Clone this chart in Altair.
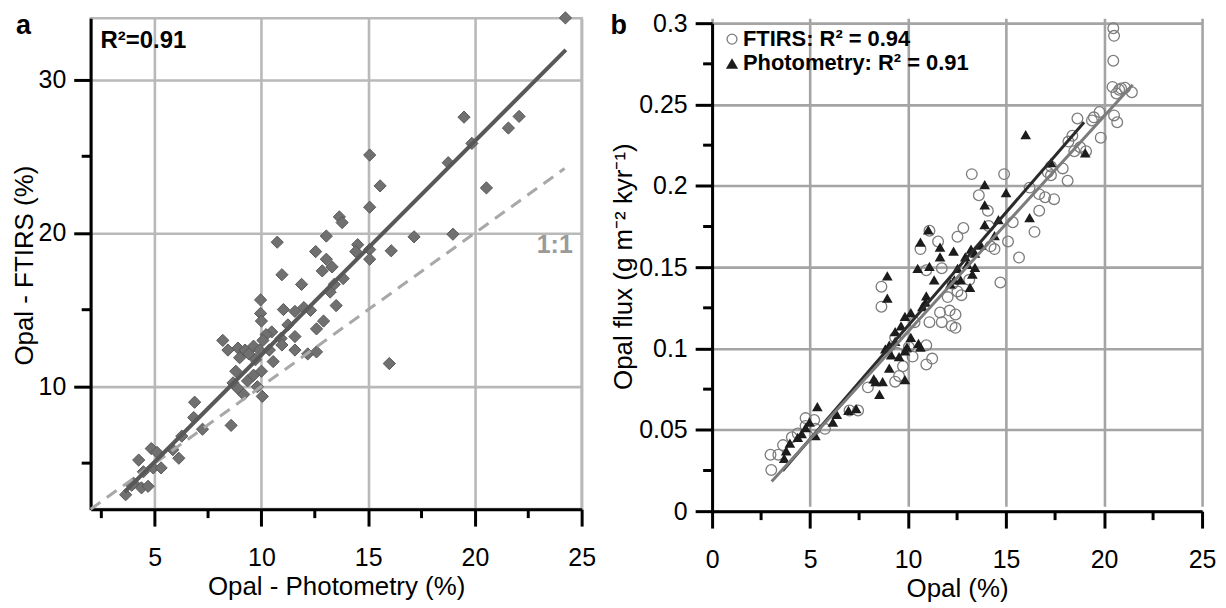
import altair as alt
import pandas as pd

FONT = "Liberation Sans"

# ---------------- Panel a data: Opal - Photometry (%) vs Opal - FTIRS (%) ----------------
a_photometry = [24.24, 19.49, 22.07, 21.57, 19.86, 15.07, 18.75, 15.56, 20.54, 15.07,
                13.65, 13.78, 17.15, 18.97, 13.04, 10.74, 14.51, 15.07, 14.42, 15.07,
                16.08, 12.54, 13.04, 13.31, 12.85, 10.96, 13.83, 11.88, 13.41, 13.22,
                9.96, 11.03, 11.57, 11.99, 12.30, 13.50, 9.96, 10.00, 11.24, 12.91,
                12.58, 10.48, 10.22, 10.07, 10.92, 10.96, 8.19, 8.43, 8.90, 9.23,
                9.41, 9.63, 9.91, 10.37, 11.57, 11.57, 12.17, 12.58, 8.98, 9.72,
                10.55, 8.80, 8.67, 8.90, 9.35, 9.17, 9.81, 10.04, 9.63, 10.00,
                6.87, 6.83, 7.24, 8.58, 6.27, 5.85, 6.13, 4.84, 5.11, 4.25,
                4.47, 4.93, 5.30, 4.01, 4.38, 4.69, 3.64, 3.92, 15.99]
a_ftirs = [34.02, 27.55, 27.60, 26.84, 25.84, 25.08, 24.58, 23.07, 22.94, 21.68,
           21.05, 20.68, 19.75, 19.92, 19.80, 19.40, 19.24, 18.92, 18.79, 18.29,
           18.84, 18.79, 18.29, 17.79, 17.53, 17.28, 17.03, 16.65, 16.65, 16.15,
           15.64, 15.01, 14.89, 15.14, 14.96, 15.27, 14.76, 14.26, 14.01, 14.26,
           13.75, 13.55, 13.38, 13.00, 13.13, 12.70, 13.00, 12.37, 12.50, 12.37,
           12.12, 12.62, 12.37, 12.37, 13.25, 12.37, 12.12, 12.25, 11.87, 11.74,
           11.62, 10.99, 10.23, 9.86, 10.36, 9.48, 9.98, 9.35, 10.73, 10.99,
           8.97, 7.97, 7.21, 7.46, 6.76, 5.88, 5.32, 5.95, 5.70, 5.20,
           4.44, 4.69, 4.69, 3.69, 3.39, 3.49, 2.94, 3.56, 11.49]

fit_a_x = [3.59, 24.26]
fit_a_y = [3.12, 31.93]
one_to_one_x = [2.0, 24.2]
one_to_one_y = [2.0, 24.2]

# ---------------- Panel b data: Opal (%) vs Opal flux ----------------
b_ftirs_opal = [20.47, 20.51, 20.47, 20.43, 20.63, 20.51, 20.67, 20.87, 21.07, 21.42,
                20.77, 19.77, 19.48, 19.38, 19.83, 18.64, 18.38, 18.18, 18.48, 18.78,
                19.08, 18.14, 17.89, 17.13, 17.29, 17.45, 16.99, 16.69, 17.29, 16.69,
                16.45, 16.20, 14.90, 13.25, 15.10, 15.34, 14.71, 15.66, 13.61, 14.07,
                14.11, 12.82, 12.52, 14.41, 14.21, 11.53, 11.09, 10.63, 10.93, 11.72,
                11.63, 11.72, 11.09, 12.12, 12.42, 12.22, 12.42, 12.02, 12.52, 12.28,
                13.12, 12.72, 8.64, 8.64, 10.33, 10.93, 11.23, 10.93, 10.23, 10.04,
                9.34, 9.44, 9.74, 9.54, 9.34, 7.95, 7.45, 7.01, 5.76, 5.21,
                4.77, 5.27, 4.77, 4.37, 4.07, 3.62, 3.38, 2.98, 3.02]
b_ftirs_flux = [0.2969, 0.2922, 0.2769, 0.2608, 0.2568, 0.2433, 0.2391, 0.2598, 0.2603, 0.2575,
                0.2591, 0.2454, 0.2421, 0.2402, 0.2296, 0.2414, 0.2308, 0.2272, 0.2213, 0.2237,
                0.2213, 0.2031, 0.2107, 0.2083, 0.2065, 0.1918, 0.1930, 0.1949, 0.2119, 0.1847,
                0.1717, 0.1989, 0.2072, 0.2072, 0.1658, 0.1776, 0.1406, 0.1559, 0.1942, 0.1847,
                0.1753, 0.1741, 0.1687, 0.1611, 0.1628, 0.1658, 0.1724, 0.1611, 0.1481, 0.1493,
                0.1221, 0.1162, 0.1162, 0.1233, 0.1209, 0.1139, 0.1127, 0.1316, 0.1351, 0.1398,
                0.1422, 0.1328, 0.1380, 0.1257, 0.1162, 0.1020, 0.0938, 0.0902, 0.0950, 0.1009,
                0.1068, 0.0973, 0.0891, 0.0831, 0.0796, 0.0761, 0.0619, 0.0619, 0.0506, 0.0560,
                0.0572, 0.0506, 0.0524, 0.0477, 0.0454, 0.0406, 0.0347, 0.0347, 0.0253]

b_photo_opal = [16.00, 19.04, 17.29, 15.00, 13.91, 13.91, 16.20, 14.61, 13.91, 14.41,
                13.71, 13.41, 13.21, 12.92, 13.02, 13.28, 13.41, 12.68, 13.16, 12.32,
                12.52, 12.36, 12.16, 11.03, 10.63, 10.49, 11.09, 11.63, 11.63, 11.33,
                10.93, 10.89, 10.73, 8.94, 8.94, 10.14, 9.84, 9.64, 9.34, 9.34,
                9.04, 8.84, 8.70, 8.54, 8.25, 8.35, 9.14, 9.04, 9.54, 9.84,
                9.94, 10.14, 10.53, 10.63, 9.84, 5.37, 6.16, 6.36, 7.35, 6.96,
                5.27, 4.97, 4.77, 4.57, 4.37, 3.97, 3.78, 3.68]
b_photo_flux = [0.2315, 0.2202, 0.2143, 0.1958, 0.2008, 0.1883, 0.1805, 0.1793, 0.1762, 0.1694,
                0.1635, 0.1587, 0.1611, 0.1564, 0.1517, 0.1457, 0.1498, 0.1422, 0.1375, 0.1599,
                0.1493, 0.1422, 0.1398, 0.1729, 0.1654, 0.1493, 0.1505, 0.1623, 0.1564, 0.1422,
                0.1323, 0.1285, 0.1257, 0.1446, 0.1309, 0.1221, 0.1198, 0.1139, 0.1103, 0.1044,
                0.1020, 0.0997, 0.0796, 0.0718, 0.0813, 0.0796, 0.0961, 0.0879, 0.0950, 0.0985,
                0.1009, 0.1068, 0.1032, 0.1009, 0.0808, 0.0643, 0.0548, 0.0595, 0.0631, 0.0619,
                0.0465, 0.0548, 0.0513, 0.0477, 0.0454, 0.0418, 0.0371, 0.0324]

fit_ftirs_x = [3.04, 21.46]
fit_ftirs_y = [0.0182, 0.2622]
fit_photo_x = [3.60, 18.98]
fit_photo_y = [0.0249, 0.2391]

# ---------------- ticks ----------------
a_major_x = [5, 10, 15, 20, 25]
a_minor_x = [2.5, 7.5, 12.5, 17.5, 22.5]
a_major_y = [10, 20, 30]
a_minor_y = [5, 15, 25]
b_major_x = [0, 5, 10, 15, 20, 25]
b_minor_x = [2.5, 7.5, 12.5, 17.5, 22.5]
b_major_y = [0, 0.05, 0.1, 0.15, 0.2, 0.25, 0.3]
b_minor_y = [0.025, 0.075, 0.125, 0.175, 0.225, 0.275]

WA, HA = 493, 493
WB, HB = 492, 495
B_TOP = 5          # panel b plot starts slightly lower than panel a
GRID_A = "#b9b9b9"
GRID_B = "#a4a4a4"


def make_axis(values, title, grid_color, orient, fmt=None, title_x=None, title_y=None):
    kw = dict(values=values, title=title, grid=True, gridColor=grid_color, gridWidth=2.6,
              domainColor="black", domainWidth=3, tickColor="black", tickWidth=3, tickSize=17,
              labelFont=FONT, labelFontSize=25, labelColor="black", labelFlush=False,
              labelOverlap=False, titleFont=FONT, titleFontSize=26, titleFontWeight="normal",
              titleColor="black")
    if orient == "bottom":
        kw.update(labelPadding=20, titlePadding=3)
    else:
        kw.update(labelPadding=8, titleAngle=270, titleAlign="center", titleBaseline="middle")
        if title_x is not None:
            kw.update(titleX=title_x, titleY=title_y)
    if fmt:
        kw["format"] = fmt
    return alt.Axis(**kw)


def panel(w, h, xscale, yscale, xaxis, yaxis, minor_x, minor_y, layers, view_stroke):
    xenc = lambda f: alt.X(f, type="quantitative", scale=xscale, axis=xaxis)
    yenc = lambda f: alt.Y(f, type="quantitative", scale=yscale, axis=yaxis)
    mx = alt.Chart(pd.DataFrame({"mx": minor_x})).mark_rule(color="black", strokeWidth=3).encode(
        x=xenc("mx"), y=alt.value(h), y2=alt.value(h + 9))
    my = alt.Chart(pd.DataFrame({"my": minor_y})).mark_rule(color="black", strokeWidth=3).encode(
        y=yenc("my"), x=alt.value(0), x2=alt.value(-9))
    built = [mx, my] + [f(xenc, yenc) for f in layers]
    return alt.layer(*built).properties(
        width=w, height=h, view=alt.ViewBackground(stroke=view_stroke, strokeWidth=2.6))


# ---------------- Panel a ----------------
xa_scale = alt.Scale(domain=[2, 25], nice=False, zero=False)
ya_scale = alt.Scale(domain=[2, 34], nice=False, zero=False)
xa_axis = make_axis(a_major_x, "Opal - Photometry (%)", GRID_A, "bottom")
ya_axis = make_axis(a_major_y, "Opal - FTIRS (%)", GRID_A, "left", title_x=-66, title_y=248)

df_a = pd.DataFrame({"phot": a_photometry, "ftirs": a_ftirs})
df_fit_a = pd.DataFrame({"phot": fit_a_x, "ftirs": fit_a_y})
df_one = pd.DataFrame({"phot": one_to_one_x, "ftirs": one_to_one_y})

layers_a = [
    lambda X, Y: alt.Chart(df_a).mark_point(shape="diamond", filled=True, size=150, color="#707070",
                                            stroke="#585858", strokeWidth=1, opacity=1).encode(
        x=X("phot"), y=Y("ftirs")),
    lambda X, Y: alt.Chart(df_one).mark_line(color="#a8a8a8", strokeWidth=3, strokeDash=[12, 8]).encode(
        x=X("phot"), y=Y("ftirs")),
    lambda X, Y: alt.Chart(df_fit_a).mark_line(color="#585858", strokeWidth=4).encode(
        x=X("phot"), y=Y("ftirs")),
    lambda X, Y: alt.Chart(pd.DataFrame({"t": ["R²=0.91"]})).mark_text(
        align="left", baseline="middle", font=FONT, fontSize=24, fontWeight="bold", color="black").encode(
        x=alt.value(10), y=alt.value(23), text="t:N"),
    lambda X, Y: alt.Chart(pd.DataFrame({"t": ["1:1"]})).mark_text(
        align="center", baseline="middle", font=FONT, fontSize=25, fontWeight="bold", color="#9a9a9a").encode(
        x=alt.value(466), y=alt.value(228), text="t:N"),
    lambda X, Y: alt.Chart(pd.DataFrame({"t": ["a"]})).mark_text(
        align="left", baseline="alphabetic", font=FONT, fontSize=27, fontWeight="bold", color="black").encode(
        x=alt.value(-75), y=alt.value(16), text="t:N"),
]
chart_a = panel(WA, HA, xa_scale, ya_scale, xa_axis, ya_axis, a_minor_x, a_minor_y, layers_a,
                "#b9b9b9")

# ---------------- Panel b ----------------
xb_scale = alt.Scale(domain=[0, 25], nice=False, zero=False)
yb_scale = alt.Scale(domain=[0, 0.3], range=[HB, B_TOP], nice=False, zero=False)
xb_axis = make_axis(b_major_x, "Opal (%)", GRID_B, "bottom")
yb_axis = make_axis(b_major_y, "Opal flux (g m⁻² kyr⁻¹)", GRID_B, "left", fmt="~g",
                    title_x=-89, title_y=249)

df_bf = pd.DataFrame({"opal": b_ftirs_opal, "flux": b_ftirs_flux})
df_bp = pd.DataFrame({"opal": b_photo_opal, "flux": b_photo_flux})
df_fit_bf = pd.DataFrame({"opal": fit_ftirs_x, "flux": fit_ftirs_y})
df_fit_bp = pd.DataFrame({"opal": fit_photo_x, "flux": fit_photo_y})

layers_b = [
    lambda X, Y: alt.Chart(df_bf).mark_point(shape="circle", filled=False, size=115, color="#7c7c7c",
                                             strokeWidth=1.3, opacity=1).encode(
        x=X("opal"), y=Y("flux")),
    lambda X, Y: alt.Chart(df_bp).mark_point(shape="triangle-up", filled=True, size=115, color="#1c1c1c",
                                             opacity=1).encode(
        x=X("opal"), y=Y("flux")),
    lambda X, Y: alt.Chart(df_fit_bp).mark_line(color="#2a2a2a", strokeWidth=3).encode(
        x=X("opal"), y=Y("flux")),
    lambda X, Y: alt.Chart(df_fit_bf).mark_line(color="#7c7c7c", strokeWidth=3).encode(
        x=X("opal"), y=Y("flux")),
    lambda X, Y: alt.Chart(pd.DataFrame({"t": ["b"]})).mark_text(
        align="left", baseline="alphabetic", font=FONT, fontSize=27, fontWeight="bold", color="black").encode(
        x=alt.value(-102), y=alt.value(15.7), text="t:N"),
    # legend
    lambda X, Y: alt.Chart(pd.DataFrame({"s": ["circle"]})).mark_point(
        shape="circle", filled=False, size=100, color="#7c7c7c", strokeWidth=1.3, opacity=1).encode(
        x=alt.value(20), y=alt.value(21)),
    lambda X, Y: alt.Chart(pd.DataFrame({"s": ["tri"]})).mark_point(
        shape="triangle-up", filled=True, size=150, color="#1c1c1c", opacity=1).encode(
        x=alt.value(20), y=alt.value(45.5)),
    lambda X, Y: alt.Chart(pd.DataFrame({"t": ["FTIRS: R² = 0.94", "Photometry: R² = 0.91"],
                                         "yy": [21, 45.5]})).mark_text(
        align="left", baseline="middle", font=FONT, fontSize=22, fontWeight="bold", color="black").encode(
        x=alt.value(31), y=alt.Y("yy:Q", scale=None), text="t:N"),
]
chart_b = panel(WB, HB, xb_scale, yb_scale, xb_axis, yb_axis, b_minor_x, b_minor_y, layers_b,
                "transparent")

chart = alt.hconcat(chart_a, chart_b, spacing=11).properties(
    padding={"left": 2, "top": -1, "right": 0, "bottom": 0}
).configure(font=FONT)

chart.save("out.html", embed_options={"renderer": "svg", "actions": False})
